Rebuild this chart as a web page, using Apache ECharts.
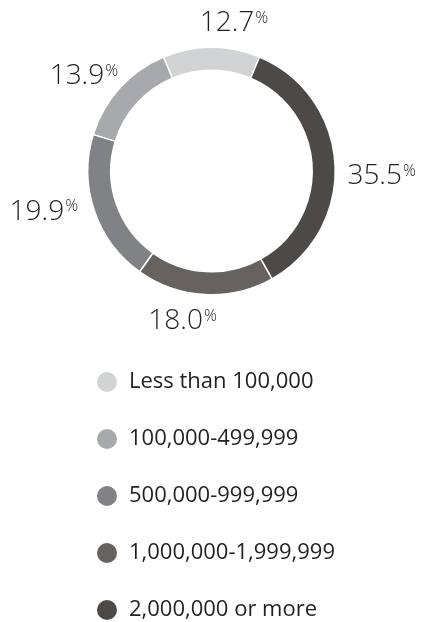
<!DOCTYPE html>
<html>
<head>
<meta charset="utf-8">
<script src="https://cdn.jsdelivr.net/npm/echarts@6/dist/echarts.min.js"></script>
<style>
html,body{margin:0;padding:0;background:#fff;}
#chart{width:421px;height:622px;}
</style>
</head>
<body>
<div id="chart"></div>
<script>
// Data
const categories = ['Less than 100,000', '100,000-499,999', '500,000-999,999', '1,000,000-1,999,999', '2,000,000 or more'];
const shares = [12.7, 13.9, 19.9, 18.0, 35.5];
const colors = ['#d1d3d4', '#a7a9ac', '#808285', '#67625e', '#4d4946'];
// label nudges (style only): offset of label centre from the pie's label anchor point
const labelNudge = [[22.5, -4], [-21, 1.8], [-31.6, -5.5], [-21.3, 7], [26.7, 13.5]];

const total = shares.reduce((a, b) => a + b, 0);
const startAngle = 90 - (shares[0] / total) * 180;

const chart = echarts.init(document.getElementById('chart'), null, {renderer: 'canvas'});
const font = '"Open Sans", "Noto Sans", sans-serif';
chart.setOption({
  animation: false,
  color: colors,
  legend: {
    data: categories,
    orient: 'vertical',
    left: 95,
    top: 370,
    padding: 0,
    itemWidth: 22,
    itemHeight: 22,
    itemGap: 33,
    icon: 'circle',
    textStyle: {fontFamily: font, fontSize: 22, fontWeight: 400, color: '#231f20', lineHeight: 22, padding: [0, 0, 0, 6]}
  },
  series: [{
    type: 'pie',
    center: [211.5, 171],
    radius: [100.7, 123.7],
    clockwise: false,
    startAngle: startAngle,
    avoidLabelOverlap: false,
    itemStyle: {borderColor: '#ffffff', borderWidth: 1.5},
    emphasis: {disabled: true},
    label: {
      show: true,
      position: 'outside',
      formatter: p => '{n|' + p.value.toFixed(1) + '}{p|%}',
      rich: {
        n: {fontFamily: font, fontSize: 28, fontWeight: 300, color: '#231f20', lineHeight: 28},
        p: {fontFamily: font, fontSize: 16, fontWeight: 300, color: '#231f20', lineHeight: 16, padding: [0, 0, 10, 1]}
      }
    },
    labelLine: {show: true, length: 20, length2: 1, lineStyle: {opacity: 0}},
    labelLayout: function (params) {
      const o = labelNudge[params.dataIndex];
      let ax, ay;
      if (params.labelLinePoints && params.labelLinePoints[1]) {
        ax = params.labelLinePoints[1][0];
        ay = params.labelLinePoints[1][1];
      } else {
        ax = params.labelRect.x + params.labelRect.width / 2;
        ay = params.labelRect.y + params.labelRect.height / 2;
      }
      return {x: ax + o[0], y: ay + o[1], align: 'center', verticalAlign: 'middle'};
    },
    data: categories.map((c, i) => ({name: c, value: shares[i]}))
  }]
});
</script>
</body>
</html>
